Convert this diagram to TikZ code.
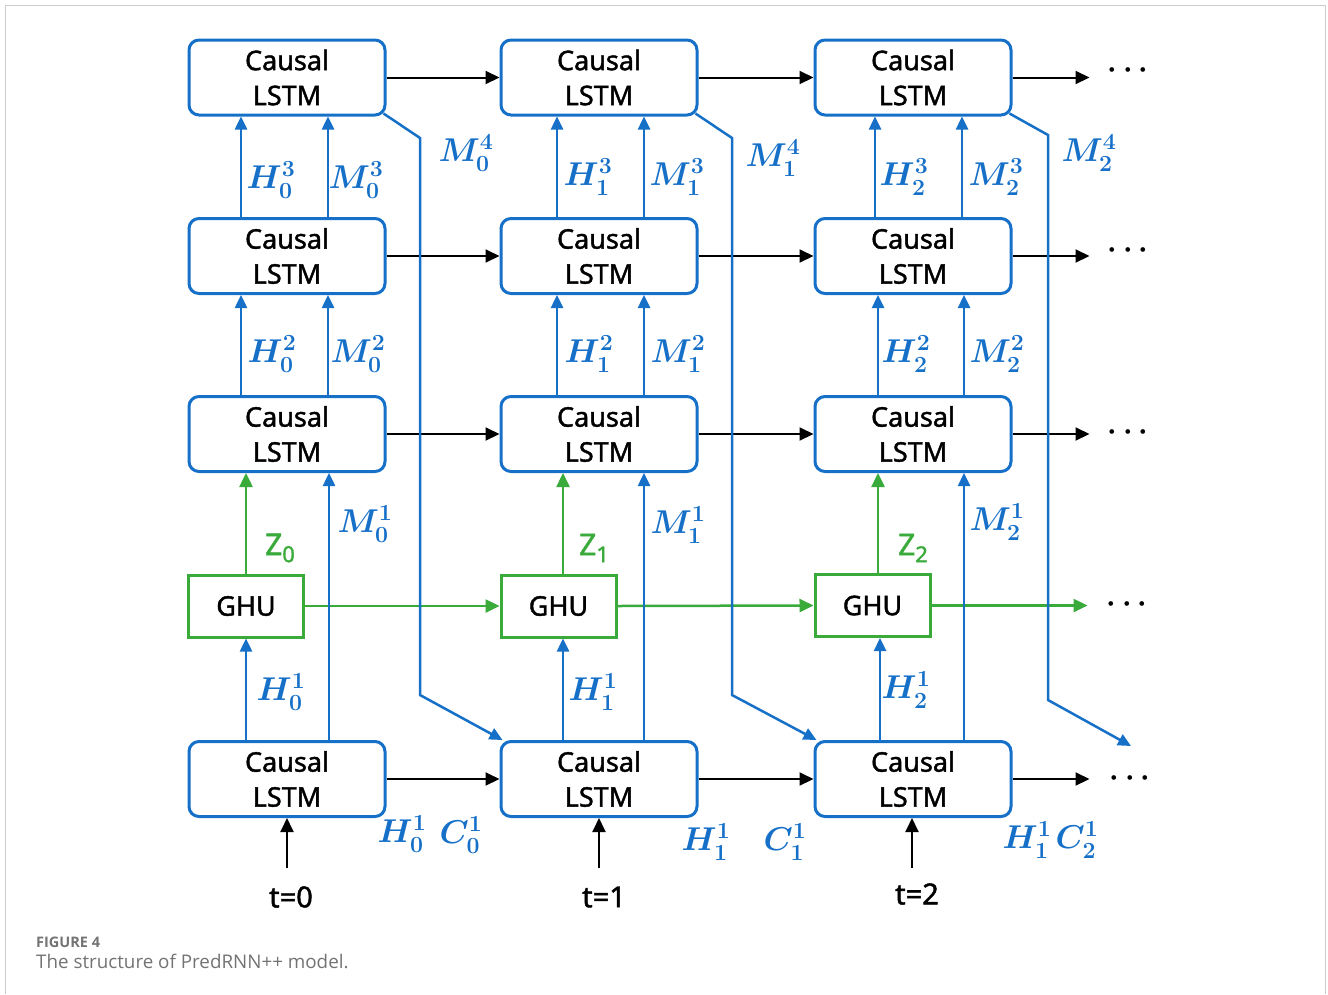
\RequirePackage{fix-cm}
\documentclass[tikz,border=0pt]{standalone}
\usepackage{fontspec}
\setmainfont{Noto Sans}
\newfontfamily\boxfont{Noto Sans}[FakeBold=1.5]
\newfontfamily\capfont{Open Sans}
\usetikzlibrary{arrows.meta}
\definecolor{cblue}{RGB}{22,112,200}
\definecolor{cgreen}{RGB}{58,170,58}
\definecolor{capgray}{RGB}{115,115,115}
\newcommand{\zlab}[1]{Z\raisebox{-7pt}{\fontsize{22}{24}\selectfont #1}}
\begin{document}
\begin{tikzpicture}[x=1pt,y=-1pt,
  lstm/.style={draw=cblue, line width=3pt, rounded corners=10pt, minimum width=196pt, minimum height=75pt, align=center, inner sep=0pt, font=\boxfont\fontsize{27}{35}\selectfont},
  ghu/.style={draw=cgreen, line width=3pt, minimum width=115pt, minimum height=62pt, inner sep=0pt, font=\boxfont\fontsize{27}{30}\selectfont},
  barrow/.style={draw=cblue, line width=2.5pt, -{Triangle[length=13pt,width=12pt]}},
  garrow/.style={draw=cgreen, line width=2.5pt, -{Triangle[length=14pt,width=13pt]}},
  karrow/.style={draw=black, line width=2pt, -{Triangle[length=14pt,width=13pt]}},
  lbl/.style={text=cblue, inner sep=0pt, font=\fontsize{33}{36}\selectfont\boldmath},
  glbl/.style={text=cgreen, inner sep=0pt, font=\boxfont\fontsize{30}{34}\selectfont},
  tlbl/.style={inner sep=0pt, font=\boxfont\fontsize{29}{32}\selectfont},
  dots/.style={inner sep=0pt, font=\fontsize{30}{32}\selectfont\boldmath}
]
\useasboundingbox (0,0) rectangle (1328,994);
\draw[black!20, line width=1pt] (5,994) -- (5,5) -- (1325,5) -- (1325,994);

% Causal LSTM boxes
\foreach \c/\x in {0/287,1/599,2/913}{
  \node[lstm] (c\c r4) at (\x,77.5) {Causal\\LSTM};
  \node[lstm] (c\c r3) at (\x,256) {Causal\\LSTM};
  \node[lstm] (c\c r2) at (\x,434) {Causal\\LSTM};
  \node[lstm] (c\c r1) at (\x,779) {Causal\\LSTM};
}
\node[ghu] (g0) at (246,606) {GHU};
\node[ghu] (g1) at (558.5,606) {GHU};
\node[ghu] (g2) at (872.5,605.5) {GHU};

% horizontal black arrows
\foreach \r in {4,3,2,1}{
  \draw[karrow] (c0r\r.east) -- (c1r\r.west);
  \draw[karrow] (c1r\r.east) -- (c2r\r.west);
  \coordinate (e\r) at ([xshift=77pt]c2r\r.east);
  \draw[karrow] (c2r\r.east) -- (e\r);
}
\node[dots] (d4) at (1128,70) {$\cdots$};
\node[dots] (d3) at (1128,250) {$\cdots$};
\node[dots] (d2) at (1128,432) {$\cdots$};
\node[dots] (d1) at (1130,778) {$\cdots$};

% green GHU arrows
\draw[garrow] (g0.east) -- (g1.west);
\draw[garrow] (g1.east) -- (g2.west);
\coordinate (eg) at ([xshift=156pt]g2.east);
\draw[garrow] (g2.east) -- (eg);
\node[dots] (dg) at (1127,604) {$\cdots$};

% vertical arrows between layers (H and M)
\draw[barrow] ([xshift=-46pt]c0r3.north) -- ([xshift=-46pt]c0r4.south);
\draw[barrow] ([xshift=41pt]c0r3.north) -- ([xshift=41pt]c0r4.south);
\draw[barrow] ([xshift=-42pt]c1r3.north) -- ([xshift=-42pt]c1r4.south);
\draw[barrow] ([xshift=45pt]c1r3.north) -- ([xshift=45pt]c1r4.south);
\draw[barrow] ([xshift=-38pt]c2r3.north) -- ([xshift=-38pt]c2r4.south);
\draw[barrow] ([xshift=49pt]c2r3.north) -- ([xshift=49pt]c2r4.south);

\draw[barrow] ([xshift=-46pt]c0r2.north) -- ([xshift=-46pt]c0r3.south);
\draw[barrow] ([xshift=41pt]c0r2.north) -- ([xshift=41pt]c0r3.south);
\draw[barrow] ([xshift=-42pt]c1r2.north) -- ([xshift=-42pt]c1r3.south);
\draw[barrow] ([xshift=45pt]c1r2.north) -- ([xshift=45pt]c1r3.south);
\draw[barrow] ([xshift=-35pt]c2r2.north) -- ([xshift=-35pt]c2r3.south);
\draw[barrow] ([xshift=51pt]c2r2.north) -- ([xshift=51pt]c2r3.south);

% Z arrows (green)
\draw[garrow] (g0.north) -- (g0.north |- c0r2.south);
\draw[garrow] ([xshift=4.5pt]g1.north) -- ([xshift=4.5pt]g1.north |- c1r2.south);
\draw[garrow] ([xshift=5.5pt]g2.north) -- ([xshift=5.5pt]g2.north |- c2r2.south);

% H1 arrows to GHU
\draw[barrow] (c0r1.north -| g0.south) -- (g0.south);
\draw[barrow] ([xshift=4.5pt]c1r1.north -| g1.south) -- ([xshift=4.5pt]g1.south);
\draw[barrow] ([xshift=7.5pt]c2r1.north -| g2.south) -- ([xshift=7.5pt]g2.south);

% M1 arrows
\draw[barrow] ([xshift=42pt]c0r1.north) -- ([xshift=42pt]c0r2.south);
\draw[barrow] ([xshift=45pt]c1r1.north) -- ([xshift=45pt]c1r2.south);
\draw[barrow] ([xshift=51pt]c2r1.north) -- ([xshift=51pt]c2r2.south);

% M4 zigzag connectors
\draw[barrow] ([xshift=-3pt,yshift=3pt]c0r4.south east) -- (420,138) -- (420,695) -- ([xshift=3pt]c1r1.north west);
\draw[barrow] ([xshift=-3pt,yshift=3pt]c1r4.south east) -- (732,138) -- (732,695) -- ([xshift=3pt]c2r1.north west);
\coordinate (m4end) at (1131,746);
\draw[barrow] ([xshift=-3pt,yshift=3pt]c2r4.south east) -- (1048,135) -- (1048,700) -- (m4end);

% input arrows
\foreach \c/\x in {0/287,1/599,2/912}{
  \coordinate (in\c) at (\x,868);
  \draw[karrow] (in\c) -- (in\c |- c\c r1.south);
}
\node[tlbl] (t0) at (291,897) {t=0};
\node[tlbl] (t1) at (604,897) {t=1};
\node[tlbl] (t2) at (917,894) {t=2};

% labels
\node[lbl] at (271,180) {$H_0^3$};
\node[lbl] at (356,180) {$M_0^3$};
\node[lbl] at (466,153) {$M_0^4$};
\node[lbl] at (588,177) {$H_1^3$};
\node[lbl] at (677,177) {$M_1^3$};
\node[lbl] at (773,158) {$M_1^4$};
\node[lbl] at (904,177) {$H_2^3$};
\node[lbl] at (996,177) {$M_2^3$};
\node[lbl] at (1089,153) {$M_2^4$};

\node[lbl] at (272,354) {$H_0^2$};
\node[lbl] at (358,354) {$M_0^2$};
\node[lbl] at (589,354) {$H_1^2$};
\node[lbl] at (678,354) {$M_1^2$};
\node[lbl] at (906,354) {$H_2^2$};
\node[lbl] at (997,354) {$M_2^2$};

\node[lbl] at (365,524) {$M_0^1$};
\node[lbl] at (678,525) {$M_1^1$};
\node[lbl] at (997,522) {$M_2^1$};

\node[glbl] at (280,548) {\zlab{0}};
\node[glbl] at (594,548) {\zlab{1}};
\node[glbl] at (913,548) {\zlab{2}};

\node[lbl] at (281,692) {$H_0^1$};
\node[lbl] at (593,692) {$H_1^1$};
\node[lbl] at (906,690) {$H_2^1$};

\node[lbl] at (402,834) {$H_0^1$};
\node[lbl] at (461,835) {$C_0^1$};
\node[lbl] at (706,842) {$H_1^1$};
\node[lbl] at (785,842) {$C_1^1$};
\node[lbl] at (1027,840) {$H_1^1$};
\node[lbl] at (1077,840) {$C_2^1$};

% caption
\node[anchor=base west, inner sep=0pt, text=capgray, font=\capfont\fontsize{14.5}{16}\selectfont\bfseries] (fig) at (36,947) {FIGURE 4};
\node[anchor=base west, inner sep=0pt, text=capgray, font=\capfont\fontsize{18.8}{22}\selectfont] (cap) at (36,968) {The structure of PredRNN++ model.};
\end{tikzpicture}
\end{document}
